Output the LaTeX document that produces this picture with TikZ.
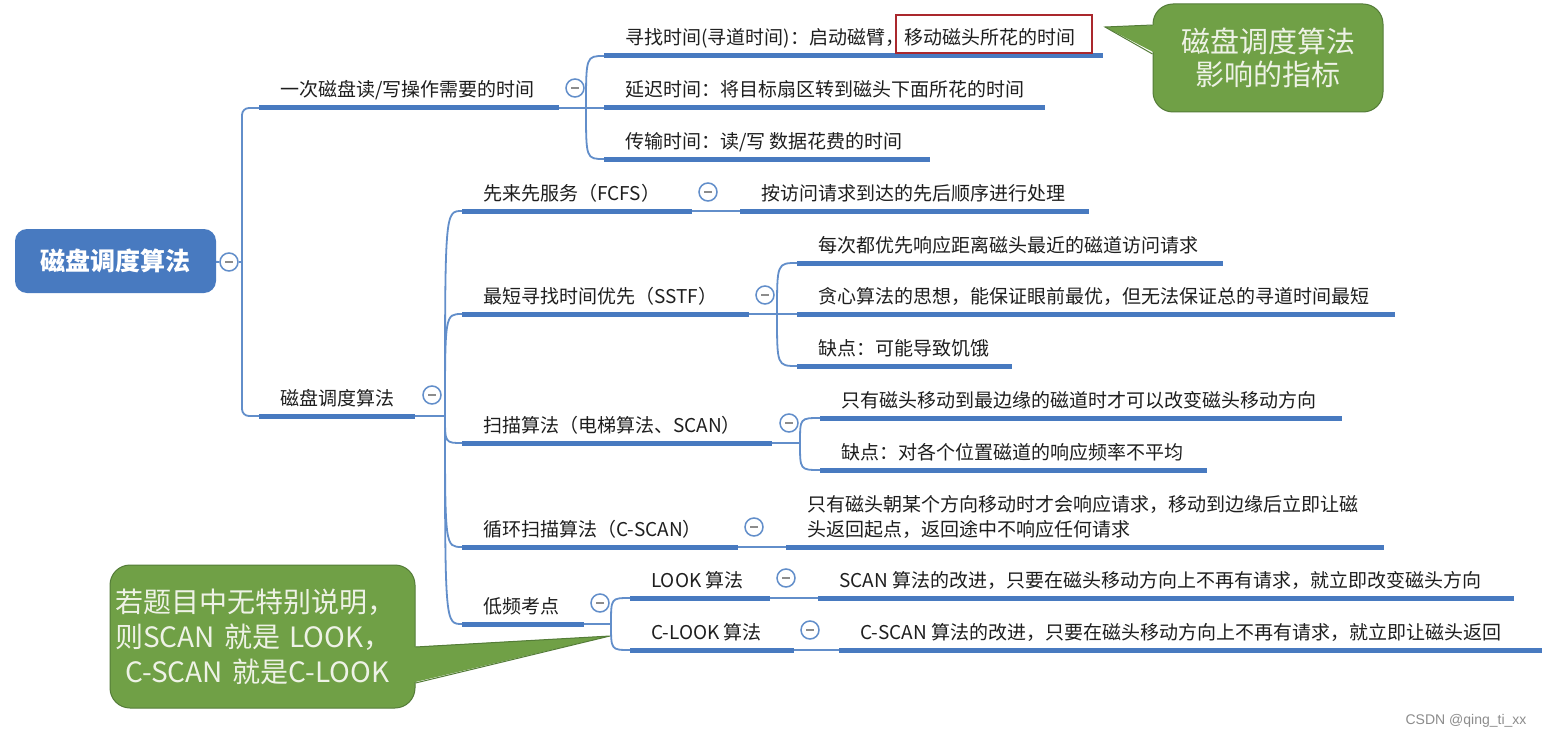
\documentclass[tikz,border=0pt]{standalone}
\usepackage{fontspec}
\setmainfont{Noto Sans CJK SC}
\newfontfamily\wmfont{Liberation Sans}
\definecolor{mmblue}{RGB}{72,122,192}
\definecolor{mmline}{RGB}{98,142,202}
\definecolor{mmtext}{RGB}{30,30,30}
\definecolor{cgreen}{RGB}{112,160,70}
\definecolor{cgreenb}{RGB}{84,124,56}
\definecolor{ctext}{RGB}{238,242,230}
\definecolor{redbox}{RGB}{170,40,45}
\newcommand\mmtopic[5]{%
  \coordinate (#1L) at (#2,#4);
  \coordinate (#1R) at (#3,#4);
  \node[topic] (#1) at (#2+21,#4-11) {#5};
  \draw[uline] (#1L) -- (#1R);
}
\begin{document}
\begin{tikzpicture}[x=1pt,y=-1pt,
  uline/.style={draw=mmblue,line width=5pt},
  conn/.style={draw=mmline,line width=1.8pt},
  topic/.style={anchor=base west,inner sep=0pt,text=mmtext,font=\fontsize{19}{25}\selectfont},
  coll/.style={circle,draw=mmline,line width=1.5pt,fill=white,minimum size=18pt,inner sep=0pt,
     path picture={\draw[black!45,line width=1.3pt] ([xshift=-4pt]path picture bounding box.center) -- ([xshift=4pt]path picture bounding box.center);}},
  callout/.style={draw=cgreenb,line width=1pt,fill=cgreen,rounded corners=20pt,text=ctext,inner sep=5pt},
]
\useasboundingbox (0,0) rectangle (1546,741);
\fill[white] (0,0) rectangle (1546,741);

% root
\node[fill=mmblue,rounded corners=12pt,minimum width=201pt,minimum height=64pt,inner sep=0pt,
      text=white,font=\fontsize{25}{30}\selectfont\bfseries] (root) at (115.5,261) {磁盘调度算法};
\node[coll] (cR) at (229,262) {};
\coordinate (jR) at (242,262);

% level 1
\mmtopic{kT}{259}{559}{108}{一次磁盘读/写操作需要的时间}
\mmtopic{kA}{259}{415}{416}{磁盘调度算法}
\draw[conn] (root) -- (cR);
\draw[conn] (cR) -- (jR);
\draw[conn,rounded corners=7pt] (jR) |- (kTL);
\draw[conn,rounded corners=7pt] (jR) |- (kAL);
\node[coll] (cT) at (575,88) {};
\node[coll] (cA) at (432,395) {};

% time children
\mmtopic{t1}{604}{1103}{56}{寻找时间(寻道时间)：启动磁臂，移动磁头所花的时间}
\mmtopic{t2}{604}{1045}{108}{延迟时间：将目标扇区转到磁头下面所花的时间}
\mmtopic{t3}{604}{930}{159}{传输时间：读/写 数据花费的时间}
\coordinate (jT) at (586,108);
\draw[conn] (kTR) -- (jT);
\foreach \c in {t1L,t2L,t3L} \draw[conn] (jT) .. controls (jT |- \c) .. (\c);
\draw[redbox,line width=1.5pt] (896,15) rectangle (1092,53);

% algorithms
\mmtopic{a1}{462}{692}{211}{先来先服务（FCFS）}
\mmtopic{a2}{462}{749}{314}{最短寻找时间优先（SSTF）}
\mmtopic{a3}{462}{772}{443}{扫描算法（电梯算法、SCAN）}
\mmtopic{a4}{462}{738}{547}{循环扫描算法（C-SCAN）}
\mmtopic{a5}{462}{584}{624}{低频考点}
\coordinate (jA) at (445,416);
\draw[conn] (kAR) -- (jA);
\foreach \c in {a1L,a2L,a3L,a4L,a5L} \draw[conn] (jA) .. controls (jA |- \c) .. (\c);

% FCFS
\mmtopic{a1c}{740}{1089}{211}{按访问请求到达的先后顺序进行处理}
\draw[conn] (a1R) -- (a1cL);
\node[coll] (c1) at (708,192) {};

% SSTF
\mmtopic{a2c1}{797}{1223}{263}{每次都优先响应距离磁头最近的磁道访问请求}
\mmtopic{a2c2}{797}{1395}{314}{贪心算法的思想，能保证眼前最优，但无法保证总的寻道时间最短}
\mmtopic{a2c3}{797}{1012}{366}{缺点：可能导致饥饿}
\coordinate (jS) at (777,314);
\draw[conn] (a2R) -- (jS);
\foreach \c in {a2c1L,a2c2L,a2c3L} \draw[conn] (jS) .. controls (jS |- \c) .. (\c);
\node[coll] (c2) at (765,295) {};

% SCAN
\mmtopic{a3c1}{820}{1342}{418}{只有磁头移动到最边缘的磁道时才可以改变磁头移动方向}
\mmtopic{a3c2}{820}{1207}{470}{缺点：对各个位置磁道的响应频率不平均}
\coordinate (jN) at (800,443);
\draw[conn] (a3R) -- (jN);
\foreach \c in {a3c1L,a3c2L} \draw[conn] (jN) .. controls (jN |- \c) .. (\c);
\node[coll] (c3) at (789,423) {};

% C-SCAN
\coordinate (a4cL) at (786,547);
\coordinate (a4cR) at (1384,547);
\node[topic,anchor=west,align=left] (a4c) at (807,517) {只有磁头朝某个方向移动时才会响应请求，移动到边缘后立即让磁\\头返回起点，返回途中不响应任何请求};
\draw[uline] (a4cL) -- (a4cR);
\draw[conn] (a4R) -- (a4cL);
\node[coll] (c4) at (754,527) {};

% low frequency
\mmtopic{a5a}{630}{770}{598}{LOOK 算法}
\mmtopic{a5b}{630}{794}{650}{C-LOOK 算法}
\coordinate (jL) at (611,624);
\draw[conn] (a5R) -- (jL);
\foreach \c in {a5aL,a5bL} \draw[conn] (jL) .. controls (jL |- \c) .. (\c);
\node[coll] (c5) at (600,603) {};
\mmtopic{a5ac}{818}{1514}{598}{SCAN 算法的改进，只要在磁头移动方向上不再有请求，就立即改变磁头方向}
\mmtopic{a5bc}{839}{1542}{650}{C-SCAN 算法的改进，只要在磁头移动方向上不再有请求，就立即让磁头返回}
\draw[conn] (a5aR) -- (a5acL);
\draw[conn] (a5bR) -- (a5bcL);
\node[coll] (c51) at (786,578) {};
\node[coll] (c52) at (810,630) {};

% callout 1
\node[callout,minimum width=230pt,minimum height=108pt,align=center,
      font=\fontsize{29}{33}\selectfont] (call1) at (1268,58) {磁盘调度算法\\影响的指标};
\coordinate (tip1) at (1105,27);
\fill[cgreen] (1157,25) -- (tip1) -- (1157,54) -- cycle;
\draw[cgreenb,line width=1pt] (call1.west |- 0,25) -- (tip1) -- (call1.west |- 0,54);

% callout 2
\node[callout,minimum width=305pt,minimum height=143pt,text width=295pt,align=left,
      font=\fontsize{28}{35}\selectfont] (call2) at (262.5,636.5)
      {若题目中无特别说明，\\则SCAN 就是 LOOK，\\\hspace*{10pt}C-SCAN 就是C-LOOK};
\coordinate (tip2) at (610,636);
\fill[cgreen] (411,647) -- (tip2) -- (411,683) -- cycle;
\draw[cgreenb,line width=1pt] (call2.east |- 0,647) -- (tip2) -- (call2.east |- 0,683);

% watermark
\node[text=black!45,font=\wmfont\fontsize{14}{16}\selectfont,inner sep=0pt] (wm) at (1466,721) {CSDN @qing\_ti\_xx};
\end{tikzpicture}
\end{document}
